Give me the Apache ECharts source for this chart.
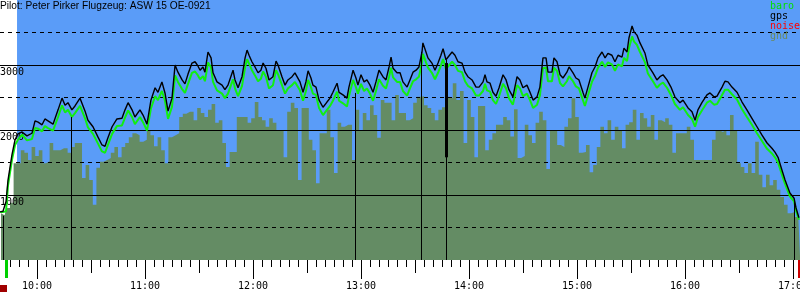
<!DOCTYPE html>
<html>
<head>
<meta charset="utf-8">
<script src="https://cdn.jsdelivr.net/npm/echarts@6/dist/echarts.min.js"></script>
<style>
  html, body { margin: 0; padding: 0; background: #fff; }
  #chart { width: 800px; height: 300px; }
</style>
</head>
<body>
<div id="chart"></div>
<script>
// time in minutes since midnight, altitude in metres
const flightTimes = [
  579.5, 581.1, 582.8, 583.9, 586.1, 587.8, 589.4, 591.7, 594.4, 597.2,
  598.9, 600.6, 602.8, 604.4, 606.1, 608.9, 611.7, 613.9, 615.6, 617.2,
  619.4, 621.1, 623.9, 626.7, 628.3, 631.1, 633.9, 636.1, 637.8, 639.4,
  641.7, 644.4, 647.2, 648.9, 650.6, 652.8, 654.4, 657.2, 658.9, 661.1,
  663.3, 665.6, 667.2, 669.4, 671.1, 672.8, 675.0, 676.7, 678.3, 680.6,
  682.2, 683.9, 686.1, 687.8, 689.4, 690.6, 692.2, 693.3, 695.0, 696.7,
  697.8, 700.0, 702.8, 704.4, 706.1, 708.9, 710.0, 711.7, 713.9, 715.6,
  716.7, 717.8, 719.4, 721.1, 722.8, 724.4, 725.6, 727.2, 728.9, 731.1,
  732.8, 733.9, 736.1, 737.8, 739.4, 741.7, 743.3, 744.4, 746.1, 747.8,
  749.4, 750.6, 752.2, 753.3, 755.0, 756.7, 758.9, 761.1, 762.8, 764.4,
  766.7, 767.8, 770.0, 772.2, 773.3, 775.6, 777.2, 778.3, 780.0, 781.7,
  783.3, 785.0, 786.7, 788.3, 790.0, 792.2, 793.9, 795.6, 796.7, 797.8,
  800.0, 801.7, 803.3, 805.6, 807.2, 808.9, 810.6, 812.2, 813.9, 814.4,
  816.1, 817.2, 819.4, 821.1, 822.8, 824.4, 825.6, 827.2, 828.3, 830.6,
  832.2, 833.9, 836.1, 837.8, 839.4, 841.7, 843.9, 845.6, 847.8, 848.9,
  850.0, 851.7, 853.3, 855.0, 856.7, 858.9, 860.6, 862.2, 864.4, 866.7,
  868.3, 870.0, 872.2, 873.9, 875.6, 877.8, 879.4, 881.1, 882.8, 883.9,
  886.1, 887.2, 888.9, 890.6, 892.2, 894.4, 895.6, 897.8, 899.4, 901.1,
  903.3, 904.4, 906.1, 908.3, 910.0, 911.7, 913.9, 915.6, 917.2, 919.4,
  921.1, 922.8, 925.0, 926.1, 927.8, 928.9, 930.6, 931.7, 933.3, 935.0,
  937.8, 939.4, 942.2, 944.4, 946.1, 947.8, 950.0, 952.2, 954.4, 957.2,
  958.9, 960.0, 961.7, 963.9, 965.6, 967.2, 969.4, 972.2, 973.9, 976.1,
  977.8, 980.6, 982.2, 983.9, 986.1, 988.9, 991.7, 994.4, 997.2, 1000.0,
  1002.8, 1005.6, 1008.3, 1010.0, 1011.7, 1013.9, 1015.6, 1018.3, 1020.6, 1021.7,
  1023.3
];
const gpsAlt = [
  740, 750, 900, 1230, 1620, 1850, 1940, 1970, 1910, 1950,
  2140, 2120, 2080, 2170, 2140, 2090, 2310, 2490, 2380, 2420,
  2310, 2370, 2490, 2290, 2150, 2050, 1890, 1770, 1750, 1880,
  2050, 2170, 2180, 2310, 2420, 2310, 2200, 2310, 2230, 2090,
  2460, 2650, 2580, 2740, 2570, 2290, 2490, 3000, 2890, 2770,
  2710, 2860, 3030, 3050, 2985, 2920, 2970, 2890, 3200, 3110,
  2880, 2740, 2690, 2620, 2690, 2920, 2770, 2650, 2820, 3110,
  3230, 3150, 3050, 2970, 2880, 2920, 3030, 2950, 2770, 2820,
  3060, 3000, 2820, 2690, 2770, 2820, 2880, 2880, 2740, 2580,
  2740, 2910, 2800, 2690, 2660, 2460, 2350, 2430, 2490, 2580,
  2720, 2580, 2540, 2490, 2660, 2920, 2800, 2690, 2850, 2740,
  2770, 2690, 2580, 2740, 2920, 2820, 2770, 2970, 3120, 2950,
  2880, 2880, 2740, 2660, 2770, 2890, 2920, 2970, 3200, 3340,
  3200, 3110, 3030, 2920, 3030, 3150, 3250, 3080, 3110, 3200,
  3150, 3050, 3030, 2890, 2820, 2770, 2660, 2660, 2740, 2850,
  2740, 2720, 2580, 2520, 2650, 2850, 2770, 2620, 2510, 2820,
  2770, 2650, 2690, 2580, 2460, 2510, 2660, 3110, 3110, 2890,
  2890, 3110, 3050, 2850, 2800, 2890, 2970, 2880, 2800, 2770,
  2580, 2490, 2660, 2880, 2970, 3110, 3200, 3110, 3180, 3150,
  3050, 3150, 3120, 3260, 3200, 3420, 3600, 3510, 3460, 3340,
  3180, 3000, 2880, 2770, 2820, 2850, 2770, 2660, 2510, 2420,
  2460, 2480, 2340, 2280, 2150, 2310, 2420, 2540, 2570, 2510,
  2520, 2660, 2750, 2740, 2660, 2580, 2430, 2310, 2180, 2050,
  1920, 1800, 1720, 1660, 1580, 1380, 1230, 1030, 950, 800,
  650
];
const baroAlt = [
  740, 740, 750, 1150, 1540, 1770, 1850, 1930, 1840, 1860,
  2030, 2020, 1980, 2060, 2030, 1990, 2200, 2380, 2270, 2310,
  2200, 2260, 2370, 2180, 2040, 1940, 1790, 1670, 1650, 1770,
  1940, 2060, 2070, 2190, 2300, 2200, 2090, 2200, 2120, 1990,
  2330, 2520, 2460, 2600, 2450, 2170, 2360, 2840, 2740, 2630,
  2570, 2710, 2880, 2900, 2840, 2780, 2830, 2750, 3040, 2960,
  2740, 2610, 2560, 2490, 2560, 2780, 2640, 2520, 2680, 2960,
  3090, 3020, 2920, 2840, 2750, 2790, 2900, 2820, 2640, 2690,
  2920, 2860, 2690, 2560, 2640, 2690, 2740, 2750, 2610, 2450,
  2600, 2770, 2660, 2560, 2540, 2340, 2230, 2310, 2370, 2450,
  2590, 2450, 2410, 2360, 2520, 2770, 2660, 2560, 2710, 2600,
  2640, 2560, 2450, 2600, 2780, 2680, 2640, 2820, 2960, 2810,
  2740, 2740, 2600, 2530, 2640, 2750, 2780, 2820, 3040, 3170,
  3040, 2960, 2880, 2780, 2880, 2990, 3090, 2940, 2960, 3050,
  3000, 2910, 2890, 2750, 2680, 2640, 2530, 2530, 2600, 2710,
  2610, 2590, 2460, 2400, 2520, 2710, 2640, 2490, 2390, 2690,
  2640, 2520, 2560, 2460, 2340, 2390, 2530, 2950, 2960, 2750,
  2750, 2960, 2910, 2720, 2670, 2750, 2830, 2750, 2670, 2640,
  2460, 2370, 2530, 2740, 2830, 2960, 3050, 2970, 3040, 3010,
  2910, 3010, 2980, 3110, 3060, 3260, 3440, 3360, 3310, 3200,
  3040, 2870, 2750, 2650, 2700, 2730, 2650, 2540, 2400, 2310,
  2350, 2360, 2230, 2170, 2050, 2200, 2300, 2420, 2450, 2390,
  2400, 2540, 2620, 2620, 2550, 2470, 2320, 2200, 2080, 1950,
  1830, 1710, 1640, 1580, 1500, 1310, 1170, 980, 900, 760,
  620
];

const gndTimes = [
  580, 582, 584, 586, 588, 590, 592, 594, 596, 598,
  600, 602, 604, 606, 608, 610, 612, 614, 616, 618,
  620, 622, 624, 626, 628, 630, 632, 634, 636, 638,
  640, 642, 644, 646, 648, 650, 652, 654, 656, 658,
  660, 662, 664, 666, 668, 670, 672, 674, 676, 678,
  680, 682, 684, 686, 688, 690, 692, 694, 696, 698,
  700, 702, 704, 706, 708, 710, 712, 714, 716, 718,
  720, 722, 724, 726, 728, 730, 732, 734, 736, 738,
  740, 742, 744, 746, 748, 750, 752, 754, 756, 758,
  760, 762, 764, 766, 768, 770, 772, 774, 776, 778,
  780, 782, 784, 786, 788, 790, 792, 794, 796, 798,
  800, 802, 804, 806, 808, 810, 812, 814, 816, 818,
  820, 822, 824, 826, 828, 830, 832, 834, 836, 838,
  840, 842, 844, 846, 848, 850, 852, 854, 856, 858,
  860, 862, 864, 866, 868, 870, 872, 874, 876, 878,
  880, 882, 884, 886, 888, 890, 892, 894, 896, 898,
  900, 902, 904, 906, 908, 910, 912, 914, 916, 918,
  920, 922, 924, 926, 928, 930, 932, 934, 936, 938,
  940, 942, 944, 946, 948, 950, 952, 954, 956, 958,
  960, 962, 964, 966, 968, 970, 972, 974, 976, 978,
  980, 982, 984, 986, 988, 990, 992, 994, 996, 998,
  1000, 1002, 1004, 1006, 1008, 1010, 1012, 1014, 1016, 1018,
  1020, 1022, 1024
];
const gndAlt = [
  720, 690, 800, 880, 1490, 1490, 1690, 1650, 1540, 1740,
  1600, 1690, 1490, 1520, 1800, 1690, 1690, 1720, 1720, 1650,
  1740, 1800, 1800, 1260, 1460, 1230, 850, 1420, 1510, 1540,
  1570, 1650, 1740, 1580, 1740, 1800, 1890, 1950, 1920, 1820,
  1850, 2000, 1920, 1750, 1890, 1690, 1490, 1890, 1920, 1950,
  2200, 2250, 2280, 2280, 2150, 2340, 2260, 2200, 2310, 2400,
  2110, 2150, 1800, 1430, 1660, 1660, 2200, 2200, 2200, 2110,
  2180, 2430, 2200, 2150, 2050, 2180, 2110, 2000, 2000, 1580,
  2280, 2420, 2340, 1230, 2340, 2340, 1850, 1690, 1180, 1950,
  1950, 2310, 1890, 1340, 2110, 2050, 2080, 2080, 1540, 2310,
  2000, 2260, 2150, 2380, 2230, 1880, 2460, 2420, 2420, 2150,
  2540, 2260, 2260, 2150, 2180, 2420, 2510, 2520, 2380, 2340,
  2260, 2150, 2310, 2350, 2510, 2490, 2720, 2460, 2600, 1800,
  2460, 2200, 1580, 2370, 2370, 1690, 1850, 1950, 2080, 2080,
  2200, 2150, 1900, 2320, 1570, 1600, 2080, 1920, 1800, 2110,
  2280, 2150, 1400, 2000, 2000, 1770, 1740, 2050, 2180, 2490,
  2200, 1650, 1660, 1770, 1350, 1460, 1740, 2050, 1950, 2150,
  1850, 2050, 2000, 1720, 2080, 2120, 2310, 1850, 2260, 2180,
  2050, 2230, 1850, 2150, 2120, 2180, 2080, 1650, 1950, 1950,
  1950, 2050, 1850, 1540, 1540, 1540, 1540, 1540, 1850, 2000,
  1970, 2000, 1920, 2230, 2000, 1490, 1430, 1340, 1490, 1340,
  1820, 1310, 1120, 1310, 1150, 1230, 1080, 970, 850, 720,
  740, 660, 620
];

// turnpoint / event markers: time and altitude where the drop line starts
const markTimes = [581.1, 618.9, 776.7, 813.7, 827.2, 1020.6];
const markTops = [680, 2200, 2570, 3200, 3080, 890];
const takeoffTime = 582.8;
const landingTime = 1023.3;
const skyStart = 588.9;

const hourTicks = [600, 660, 720, 780, 840, 900, 960, 1020];
const hourLabels = ['10:00', '11:00', '12:00', '13:00', '14:00', '15:00', '16:00', '17:00'];
const halfHourTicks = [630, 690, 750, 810, 870, 930, 990];
const altLabels = [1000, 2000, 3000];

const X_MIN = 579.44, X_MAX = 1023.9;
const MONO = 'DejaVu Sans Mono';

const fiveMinTicks = [];
for (let m = 585; m <= 1020; m += 5) fiveMinTicks.push(m);

const pairs = (ts, vs) => ts.map((t, i) => [t, vs[i]]);

function timeAxis(ticks, len, color, width, labels) {
  return {
    type: 'value', min: X_MIN, max: X_MAX, position: 'bottom', z: 3,
    axisLine: { show: false },
    splitLine: { show: false },
    axisTick: { show: true, customValues: ticks, length: len, lineStyle: { color, width } },
    axisLabel: labels ? {
      show: true, customValues: ticks, margin: 21,
      fontFamily: MONO, fontSize: 10, color: '#000',
      formatter: v => labels[ticks.indexOf(v)] || ''
    } : { show: false }
  };
}

const chart = echarts.init(document.getElementById('chart'));

const dropLines = markTimes.map((t, i) => [{ coord: [t, markTops[i]] }, { coord: [t, 0] }]);
dropLines.push([{ coord: [827.2, 3030], lineStyle: { width: 3 } }, { coord: [827.2, 1580] }]);

chart.setOption({
  animation: false,
  title: {
    text: 'Pilot: Peter Pirker Flugzeug: ASW 15 OE-0921',
    left: 0, top: 1, padding: 0,
    textStyle: { fontFamily: 'Liberation Sans', fontSize: 10.2, fontWeight: 'normal', color: '#000' }
  },
  legend: {
    orient: 'vertical', left: 765, top: 1, padding: 0,
    itemWidth: 0, itemHeight: 10, itemGap: 0, icon: 'none',
    selectedMode: false,
    textStyle: { fontFamily: MONO, fontSize: 10 },
    data: [
      { name: 'baro', textStyle: { color: '#00e000' } },
      { name: 'gps', textStyle: { color: '#000' } },
      { name: 'noise', textStyle: { color: '#ff0000' } },
      { name: 'gnd', textStyle: { color: '#6a8a60' } }
    ]
  },
  grid: { left: 0, right: 0, top: 0, bottom: 40, outerBoundsMode: 'none' },
  xAxis: [
    timeAxis(hourTicks, 19, '#000', 1, hourLabels),
    timeAxis(halfHourTicks, 13, '#000', 1),
    timeAxis(fiveMinTicks, 7, '#000', 1),
    timeAxis([takeoffTime], 18, '#00d000', 3),
    timeAxis([landingTime], 18, '#cc0000', 3)
  ],
  yAxis: [
    {
      type: 'value', min: 0, max: 4000, interval: 1000, z: 3,
      axisLine: { show: false }, axisTick: { show: false },
      splitLine: { show: true, showMinLine: false, showMaxLine: false, lineStyle: { color: '#000', width: 1 } },
      axisLabel: {
        inside: true, margin: 0, verticalAlign: 'top', padding: [2, 0, 0, 0],
        fontFamily: MONO, fontSize: 10, color: '#000',
        formatter: v => (altLabels.includes(v) ? String(v) : '')
      }
    },
    {
      type: 'value', min: 0, max: 4000, interval: 500, z: 3,
      axisLine: { show: false }, axisTick: { show: false }, axisLabel: { show: false },
      splitLine: { show: true, showMinLine: false, showMaxLine: false, lineStyle: { color: '#000', width: 1, type: [4, 4] } }
    }
  ],
  series: [
    {
      name: 'sky', type: 'line', data: [], z: 1, silent: true,
      markArea: {
        silent: true, itemStyle: { color: '#5a9cf8' },
        data: [[{ coord: [skyStart, 0] }, { coord: [X_MAX, 4000] }]]
      }
    },
    {
      name: 'gnd', type: 'line', step: 'middle', z: 2, silent: true,
      symbol: 'none', color: '#648c64',
      lineStyle: { width: 0 }, areaStyle: { color: '#648c64', opacity: 1 },
      data: pairs(gndTimes, gndAlt)
    },
    { name: 'noise', type: 'line', data: [], color: '#ff0000' },
    {
      name: 'baro', type: 'line', z: 4, symbol: 'none', color: '#11ee11',
      lineStyle: { width: 2, color: '#11ee11' },
      data: pairs(flightTimes, baroAlt)
    },
    {
      name: 'gps', type: 'line', z: 5, symbol: 'none', color: '#000',
      lineStyle: { width: 1.4, color: '#000' },
      data: pairs(flightTimes, gpsAlt),
      markLine: {
        silent: true, symbol: 'none', label: { show: false },
        lineStyle: { color: '#000', width: 1, type: 'solid' },
        data: dropLines
      }
    }
  ],
  graphic: [
    { type: 'rect', left: 0, top: 285, shape: { width: 7, height: 7 }, style: { fill: '#a00000' } }
  ]
});
</script>
</body>
</html>
